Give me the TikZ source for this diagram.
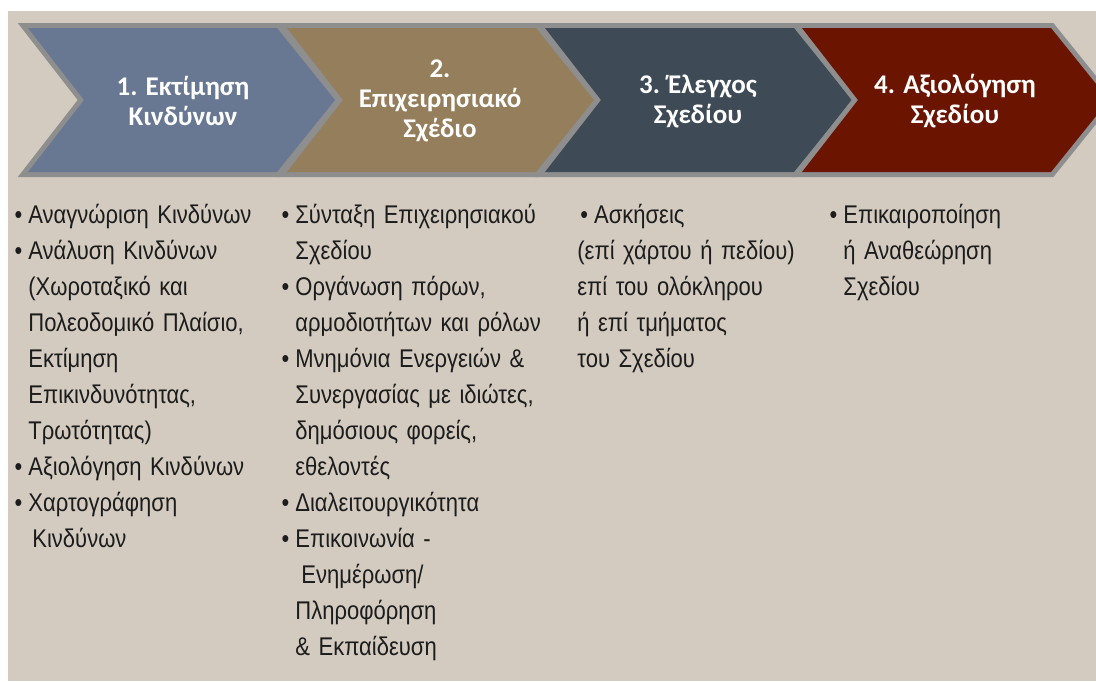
\documentclass[tikz,border=0pt]{standalone}
\usepackage{fontspec}
\setmainfont{Liberation Sans}
\newfontfamily\titlefont{Carlito}
\newfontfamily\listfont{Liberation Sans}[FakeStretch=0.86]
\usepackage{tikz}
\definecolor{bgbeige}{RGB}{211,203,192}
\definecolor{edgegray}{RGB}{142,142,142}
\definecolor{riskblue}{RGB}{104,120,146}
\definecolor{planbrown}{RGB}{149,126,91}
\definecolor{testslate}{RGB}{62,74,86}
\definecolor{reviewred}{RGB}{107,20,0}
\definecolor{listink}{RGB}{28,28,28}
\newcommand{\bul}{\leavevmode\llap{\textbullet\hspace{3pt}}}
\tikzset{
  title/.style={text=white,align=center,inner sep=0pt,
    font=\titlefont\bfseries\fontsize{13.5}{15}\selectfont},
  list/.style={anchor=north west,inner sep=0pt,text width=150pt,align=left,
    text=listink,font=\listfont\fontsize{12.8}{18}\selectfont}
}
\begin{document}
\begin{tikzpicture}[x=0.5pt,y=-0.5pt]
%%Location
\clip (0,0) rectangle (1096,681);
\fill[white] (0,0) rectangle (1096,681);
\fill[bgbeige] (8,11) rectangle (1096,681);
%%Chevrons
\foreach \x/\c in {28/riskblue,287/planbrown,545/testslate,802/reviewred}{
  \draw[edgegray,line width=5pt] (\x,28) -- ++(249,0) -- ++(58,72) -- ++(-58,72)
    -- ++(-249,0) -- ++(56,-72) -- cycle;
  \fill[\c] (\x,28) -- ++(249,0) -- ++(58,72) -- ++(-58,72)
    -- ++(-249,0) -- ++(56,-72) -- cycle;
}
%%Titles
\draw (183,101) node (risk) [title] {1. Εκτίμηση\\Κινδύνων};
\draw (440,101) node (plan) [title] {2.\\Επιχειρησιακό\\Σχέδιο};
\draw (698,101) node (test) [title] {3. Έλεγχος\\Σχεδίου};
\draw (955,101) node (review) [title] {4. Αξιολόγηση\\Σχεδίου};
%%Lists
\draw (28,199) node (riskList) [list] {\rule{0pt}{12pt}\bul Αναγνώριση Κινδύνων\\
\bul Ανάλυση Κινδύνων\\
(Χωροταξικό και\\
Πολεοδομικό Πλαίσιο,\\
Εκτίμηση\\
Επικινδυνότητας,\\
Τρωτότητας)\\
\bul Αξιολόγηση Κινδύνων\\
\bul Χαρτογράφηση\\
\hspace*{2pt}Κινδύνων};
\draw (295,199) node (planList) [list] {\rule{0pt}{12pt}\bul Σύνταξη Επιχειρησιακού\\
Σχεδίου\\
\bul Οργάνωση πόρων,\\
αρμοδιοτήτων και ρόλων\\
\bul Μνημόνια Ενεργειών \&\\
Συνεργασίας με ιδιώτες,\\
δημόσιους φορείς,\\
εθελοντές\\
\bul Διαλειτουργικότητα\\
\bul Επικοινωνία -\\
\hspace*{3pt}Ενημέρωση/\\
Πληροφόρηση\\
\& Εκπαίδευση};
\draw (577,199) node (testList) [list] {\rule{0pt}{12pt}\hspace*{1.5pt}\textbullet\hspace{3pt}Ασκήσεις\\
(επί χάρτου ή πεδίου)\\
επί του ολόκληρου\\
ή επί τμήματος\\
του Σχεδίου};
\draw (843,199) node (reviewList) [list] {\rule{0pt}{12pt}\bul Επικαιροποίηση\\
ή Αναθεώρηση\\
Σχεδίου};
\end{tikzpicture}
\end{document}
